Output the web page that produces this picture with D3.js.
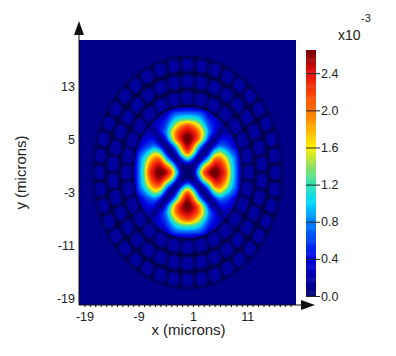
<!DOCTYPE html>
<html>
<head>
<meta charset="utf-8">
<style>
  html, body { margin: 0; background: #fff; overflow: hidden; }
  svg { display: block; }
  text { font-family: "Liberation Sans", Arial, sans-serif; fill: #222; }
</style>
<script src="https://cdn.jsdelivr.net/npm/d3@7"></script>
</head>
<body>
<svg id="chart" width="396" height="356"></svg>
<script>
const width = 396;
const height = 356;

// Tick labels
const xTicks = [-19, -9, 1, 11];
const yTicks = [-19, -11, -3, 5, 13];
const barTicks = [0, 0.4, 0.8, 1.2, 1.6, 2.0, 2.4];

// Field, units of 1e-3. Row = |y| 0..10, column = |x| 0..10 (microns).
// The mode looks mirror symmetric so one quadrant is enough.
const fieldQuadrant = [
  [0.00, 0.12, 1.00, 2.05, 2.55, 2.70, 2.55, 2.20, 1.30, 0.72, 0.20],
  [0.12, 0.00, 0.55, 1.45, 2.05, 2.50, 2.42, 2.00, 1.25, 0.70, 0.15],
  [1.00, 0.55, 0.03, 0.50, 1.15, 2.00, 2.05, 1.65, 1.10, 0.66, 0.10],
  [2.05, 1.45, 0.50, 0.03, 0.45, 1.20, 1.45, 1.15, 0.80, 0.52, 0.08],
  [2.55, 2.05, 1.15, 0.45, 0.03, 0.45, 0.75, 0.65, 0.50, 0.25, 0.08],
  [2.70, 2.50, 2.00, 1.20, 0.45, 0.05, 0.40, 0.45, 0.35, 0.12, 0.08],
  [2.55, 2.42, 2.05, 1.45, 0.75, 0.40, 0.06, 0.25, 0.15, 0.08, 0.08],
  [2.20, 2.00, 1.65, 1.15, 0.65, 0.45, 0.25, 0.06, 0.08, 0.08, 0.08],
  [1.30, 1.25, 1.10, 0.80, 0.50, 0.35, 0.15, 0.08, 0.08, 0.08, 0.08],
  [0.72, 0.70, 0.66, 0.52, 0.25, 0.12, 0.08, 0.08, 0.08, 0.08, 0.08],
  [0.20, 0.15, 0.10, 0.08, 0.08, 0.08, 0.08, 0.08, 0.08, 0.08, 0.08]
];

// Cladding: air hole rings (microns) and number of cells per ring
const ringInner = [10.3, 12.8, 15.3];
const ringOuter = [12.2, 14.7, 17.2];
const ringCells = [28, 34, 40];

// Colour bar stops
const colorValues = [0, 0.4, 0.8, 1.0, 1.2, 1.4, 1.6, 1.8, 2.0, 2.4, 2.65];
const colorStops = ["#000070", "#0000e0", "#0080ff", "#00d8ff", "#30e0b0", "#90e060", "#fff000", "#ffb000", "#ff7000", "#e81010", "#700000"];

const margin = { top: 40, right: 100, bottom: 51, left: 79 };
const innerWidth = width - margin.left - margin.right;
const innerHeight = height - margin.top - margin.bottom;

const x = d3.scaleLinear().domain([-20, 20]).range([0, innerWidth]);
const y = d3.scaleLinear().domain([-20, 20]).range([innerHeight, 0]);
const color = d3.scaleLinear().domain(colorValues).range(colorStops).clamp(true);

const svg = d3.select("#chart");

const defs = svg.append("defs");
defs.append("filter").attr("id", "soft")
  .attr("x", "-5%").attr("y", "-5%").attr("width", "110%").attr("height", "110%")
  .append("feGaussianBlur").attr("stdDeviation", 0.6);
defs.append("filter").attr("id", "softer")
  .attr("x", "-5%").attr("y", "-5%").attr("width", "110%").attr("height", "110%")
  .append("feGaussianBlur").attr("stdDeviation", 1.1);
defs.append("clipPath").attr("id", "plot-clip")
  .append("rect").attr("width", innerWidth).attr("height", innerHeight);
defs.append("clipPath").attr("id", "core-clip")
  .append("ellipse")
  .attr("cx", x(0)).attr("cy", y(0))
  .attr("rx", x(9.9) - x(0)).attr("ry", y(0) - y(9.9));

const g = svg.append("g")
  .attr("transform", `translate(${margin.left},${margin.top})`);

const plot = g.append("g").attr("clip-path", "url(#plot-clip)");
plot.append("rect")
  .attr("width", innerWidth).attr("height", innerHeight)
  .attr("fill", "#000088");

// Cladding rings, arcs are in microns and the group stretches them to the axes
const sx = x(1) - x(0);
const sy = y(0) - y(1);
const clad = plot.append("g")
  .attr("filter", "url(#softer)")
  .append("g")
  .attr("transform", `translate(${x(0)},${y(0)}) scale(${sx},${sy})`);

clad.append("circle")
  .attr("r", ringOuter[2] + 0.35)
  .attr("fill", "#000048");

ringCells.forEach((n, i) => {
  const step = 2 * Math.PI / n;
  const arc = d3.arc()
    .innerRadius(ringInner[i])
    .outerRadius(ringOuter[i])
    .cornerRadius(0.6);
  clad.selectAll(`.cell-${i}`)
    .data(d3.range(n))
    .join("path")
    .attr("class", `cell-${i}`)
    .attr("fill", "#00009e")
    .attr("d", k => arc({
      startAngle: (k - 0.5) * step + 0.016,
      endAngle: (k + 0.5) * step - 0.016
    }));
});

// Core field: unfold the quadrant, smooth the grid, then let d3.contours trace it
const axisDist = d3.range(-10, 11);
const fieldRows = axisDist.slice().reverse()
  .map(v => axisDist.map(u => fieldQuadrant[Math.abs(v)][Math.abs(u)]));

// Catmull-Rom resampling of the picture grid, only so the contours are not blocky
const fine = 4;
function cubic(a, b, c, d, t) {
  return b + 0.5 * t * (c - a + t * (2 * a - 5 * b + 4 * c - d + t * (3 * (b - c) + d - a)));
}
function resample(line) {
  const out = [];
  const at = i => line[Math.max(0, Math.min(line.length - 1, i))];
  for (let i = 0; i < line.length - 1; i++) {
    for (let k = 0; k < fine; k++) {
      out.push(cubic(at(i - 1), at(i), at(i + 1), at(i + 2), k / fine));
    }
  }
  out.push(line[line.length - 1]);
  return out;
}
const wideRows = fieldRows.map(resample);
const columns = d3.transpose(wideRows).map(resample);
const fineRows = d3.transpose(columns);
const gridSize = fineRows.length;
const fieldValues = fineRows.flat().map(v => Math.max(0, v));

const contours = d3.contours()
  .size([gridSize, gridSize])
  .smooth(true)
  .thresholds(d3.range(0, 2.72, 0.03))(fieldValues);

const toScreen = d3.geoTransform({
  point(px, py) {
    this.stream.point(x((px - 0.5) / fine - 10), y(10 - (py - 0.5) / fine));
  }
});

const core = plot.append("g").attr("filter", "url(#soft)")
  .append("g").attr("clip-path", "url(#core-clip)");
core.selectAll("path")
  .data(contours)
  .join("path")
  .attr("fill", d => color(d.value))
  .attr("d", d3.geoPath(toScreen));

// Axes
const xAxis = d3.axisBottom(x).tickValues(xTicks).tickSize(0).tickPadding(7).tickFormat(d => String(d));
const xAxisG = g.append("g").attr("transform", `translate(0,${innerHeight})`).call(xAxis);
xAxisG.select(".domain").remove();
xAxisG.selectAll("text").style("font-size", "12.5px");

const xMinor = d3.axisBottom(x).tickValues(d3.range(-19, 20)).tickSize(2).tickFormat("");
const xMinorG = g.append("g").attr("transform", `translate(0,${innerHeight})`).call(xMinor);
xMinorG.select(".domain").remove();
xMinorG.selectAll("text").remove();

const yAxis = d3.axisLeft(y).tickValues(yTicks).tickSize(0).tickPadding(4).tickFormat(d => String(d));
const yAxisG = g.append("g").call(yAxis);
yAxisG.select(".domain").remove();
yAxisG.selectAll("text").style("font-size", "12.5px");

// Axis lines with arrow heads
g.append("line")
  .attr("x1", 0).attr("x2", 0).attr("y1", innerHeight).attr("y2", -8)
  .attr("stroke", "#111");
g.append("path")
  .attr("d", d3.line()([[0, -19], [-5, -5], [5, -5]]))
  .attr("fill", "#111");
g.append("line")
  .attr("x1", 0).attr("x2", innerWidth + 8).attr("y1", innerHeight).attr("y2", innerHeight)
  .attr("stroke", "#111");
g.append("path")
  .attr("d", d3.line()([[innerWidth + 19, innerHeight], [innerWidth + 5, innerHeight - 5], [innerWidth + 5, innerHeight + 5]]))
  .attr("fill", "#111");

// Axis titles
g.append("text")
  .attr("x", innerWidth / 2 + 1)
  .attr("y", innerHeight + 30)
  .attr("text-anchor", "middle")
  .style("font-size", "15px")
  .text("x (microns)");

g.append("text")
  .attr("transform", `translate(-53,${innerHeight / 2}) rotate(-90)`)
  .attr("text-anchor", "middle")
  .style("font-size", "15px")
  .text("y (microns)");

// Colour bar
const barX = 306;
const barWidth = 10;
const bar = d3.scaleLinear().domain([0, 2.65]).range([296, 50]);
const barG = svg.append("g");

barG.selectAll("rect")
  .data(d3.range(0, 2.65, 0.01))
  .join("rect")
  .attr("x", barX)
  .attr("width", barWidth)
  .attr("y", d => bar(d + 0.01))
  .attr("height", d => bar(d) - bar(d + 0.01) + 0.5)
  .attr("fill", d => color(d));

const barAxis = d3.axisRight(bar).tickValues(barTicks).tickSize(4).tickPadding(1).tickFormat(d3.format(".1f"));
const barAxisG = barG.append("g").attr("transform", `translate(${barX + barWidth},0)`).call(barAxis);
barAxisG.select(".domain").remove();
barAxisG.selectAll("line").attr("stroke", "#222").attr("x1", -barWidth);
barAxisG.selectAll("text").style("font-size", "12.5px");

svg.append("text")
  .attr("x", 338).attr("y", 40)
  .style("font-size", "14px")
  .text("x10");
svg.append("text")
  .attr("x", 361).attr("y", 22)
  .style("font-size", "11px")
  .text("-3");
</script>
</body>
</html>
